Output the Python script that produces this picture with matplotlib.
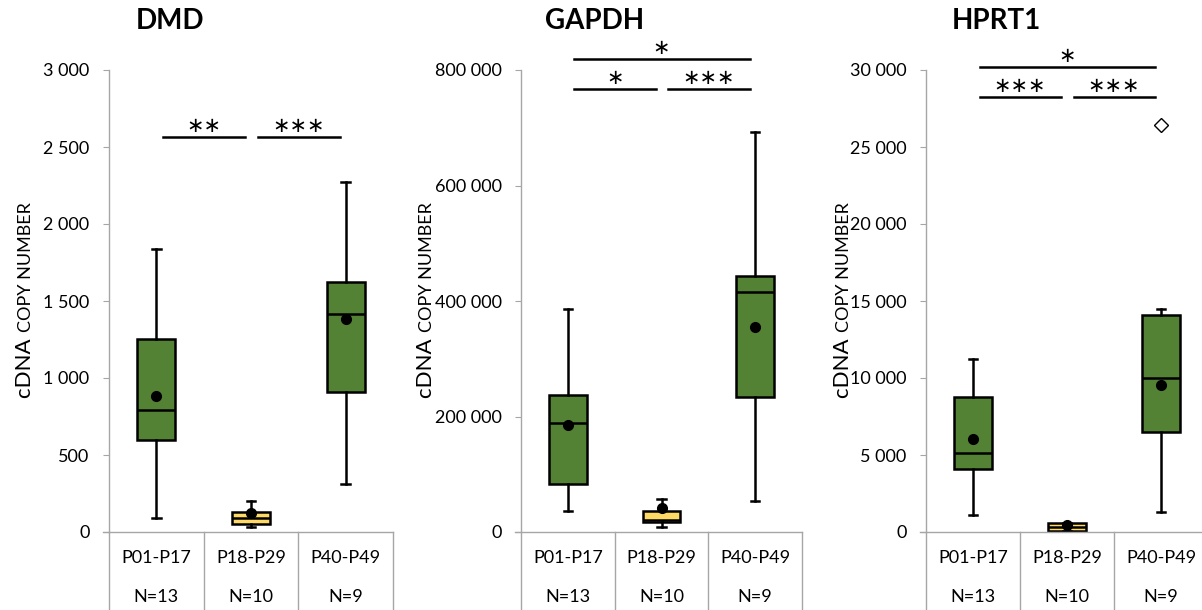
import matplotlib.pyplot as plt
from matplotlib.transforms import IdentityTransform, blended_transform_factory

plt.rcParams['font.family'] = ['Lato', 'DejaVu Sans']

# groups shown in the table under each panel
groups = ["P01-P17", "P18-P29", "P40-P49"]
group_n = ["N=13", "N=10", "N=9"]
genes = ["DMD", "GAPDH", "HPRT1"]

# box statistics (per group)
dmd_whislo = [91, 32, 312]
dmd_q1 = [597, 52, 909]
dmd_med = [792, 91, 1416]
dmd_q3 = [1253, 130, 1623]
dmd_whishi = [1840, 201, 2275]
dmd_mean = [880, 123, 1385]
dmd_fliers = [[], [], []]

gapdh_whislo = [36000, 9000, 54000]
gapdh_q1 = [83000, 17000, 234000]
gapdh_med = [189000, 21000, 416000]
gapdh_q3 = [237000, 36000, 443000]
gapdh_whishi = [386000, 58000, 693000]
gapdh_mean = [185000, 41000, 355000]
gapdh_fliers = [[], [], []]

hprt1_whislo = [1100, 40, 1300]
hprt1_q1 = [4090, 65, 6500]
hprt1_med = [5130, 300, 10000]
hprt1_q3 = [8770, 580, 14090]
hprt1_whishi = [11230, 600, 14480]
hprt1_mean = [6040, 480, 9550]
hprt1_fliers = [[], [], [26430]]

# y axis ranges
y_max = [3000, 800000, 30000]
y_step = [500, 200000, 5000]

# significance brackets: (group a, group b, height, label)
dmd_sig = [(0, 1, 2565, "**"), (1, 2, 2565, "***")]
gapdh_sig = [(0, 1, 767000, "*"), (1, 2, 767000, "***"), (0, 2, 819000, "*")]
hprt1_sig = [(0, 1, 28250, "***"), (1, 2, 28250, "***"), (0, 2, 30200, "*")]

box_colors = ["#548235", "#FFD966", "#548235"]
GREY = "#A6A6A6"

W, H = 1202, 610
ax_px = [(109, 393), (521, 802), (926, 1208)]
title_px = [170, 595, 996]
ylabel_px = [31, 432, 849]
top_px, bot_px = 70, 532


def make_stats(whislo, q1, med, q3, whishi, mean, fliers):
    return [dict(whislo=a, q1=b, med=c, q3=d, whishi=e, mean=f, fliers=g)
            for a, b, c, d, e, f, g in zip(whislo, q1, med, q3, whishi, mean, fliers)]


all_stats = [
    make_stats(dmd_whislo, dmd_q1, dmd_med, dmd_q3, dmd_whishi, dmd_mean, dmd_fliers),
    make_stats(gapdh_whislo, gapdh_q1, gapdh_med, gapdh_q3, gapdh_whishi, gapdh_mean, gapdh_fliers),
    make_stats(hprt1_whislo, hprt1_q1, hprt1_med, hprt1_q3, hprt1_whishi, hprt1_mean, hprt1_fliers),
]
all_sig = [dmd_sig, gapdh_sig, hprt1_sig]


def fmt(v, _pos=None):
    return f"{int(v):,}".replace(",", " ")


fig = plt.figure(figsize=(W / 100, H / 100), dpi=100)
lw = 1.8

for k, gene in enumerate(genes):
    x0, x1 = ax_px[k]
    ax = fig.add_axes([x0 / W, (H - bot_px) / H, (x1 - x0) / W, (bot_px - top_px) / H])
    ax.set_facecolor("none")
    stats = all_stats[k]
    res = ax.bxp(stats, positions=[0, 1, 2], widths=0.4, capwidths=0.09,
                 patch_artist=True, showmeans=True, manage_ticks=False,
                 boxprops=dict(edgecolor="black", linewidth=lw),
                 whiskerprops=dict(color="black", linewidth=lw),
                 capprops=dict(color="black", linewidth=lw),
                 medianprops=dict(color="black", linewidth=lw),
                 meanprops=dict(marker="o", markerfacecolor="black",
                                markeredgecolor="black", markersize=7),
                 flierprops=dict(marker="D", markerfacecolor="white",
                                 markeredgecolor="black", markersize=7,
                                 markeredgewidth=1))
    for patch, c in zip(res["boxes"], box_colors):
        patch.set_facecolor(c)

    ax.set_xlim(-0.5, 2.5)
    ax.set_ylim(0, y_max[k])
    ax.set_yticks(range(0, y_max[k] + 1, y_step[k]))
    ax.yaxis.set_major_formatter(plt.FuncFormatter(fmt))
    ax.set_xticks([])
    for s in ["top", "right", "bottom"]:
        ax.spines[s].set_visible(False)
    ax.spines["left"].set_color(GREY)
    ax.spines["left"].set_linewidth(1)
    ax.tick_params(axis="y", direction="out", length=4, color=GREY,
                   labelsize=13, pad=10, labelcolor="black")

    # table under the axis
    px_unit = (x1 - x0) / 3
    trans = blended_transform_factory(ax.transData, ax.transAxes)
    ax.plot([-0.5 - 6 / px_unit, 2.5], [0, 0], transform=trans, color=GREY,
            lw=1, clip_on=False)
    for xb in [-0.5, 0.5, 1.5, 2.5]:
        ax.plot([xb, xb], [0, -0.25], transform=trans, color=GREY, lw=1,
                clip_on=False)
    for i, (g, n) in enumerate(zip(groups, group_n)):
        ax.text(i, -0.0563, g, transform=trans, ha="center", va="center",
                fontsize=13)
        ax.text(i, -0.1407, n, transform=trans, ha="center", va="center",
                fontsize=13)

    # significance brackets
    for a, b, h, lab in all_sig[k]:
        ax.plot([a + 0.07, b - 0.06], [h, h], color="black", lw=1.8,
                clip_on=False)
        ax.annotate(lab.replace("*", "\u2217"), xy=((a + b) / 2, h),
                    xytext=(0, 11), textcoords="offset pixels",
                    ha="center", va="center", fontsize=15,
                    family="DejaVu Sans", annotation_clip=False)

    fig.text(title_px[k] / W, 1 - 21 / H, gene, ha="center", va="center",
             fontsize=20, fontweight="bold")

# y labels: "cDNA" plus small-caps "COPY NUMBER", baseline aligned
fig.canvas.draw()
renderer = fig.canvas.get_renderer()
center_y = H - 300
for k in range(3):
    xb = ylabel_px[k]
    t1 = fig.text(xb, 0, "cDNA ", transform=IdentityTransform(), rotation=90,
                  rotation_mode="anchor", ha="left", va="baseline", fontsize=16)
    t2 = fig.text(xb, 0, "COPY NUMBER", transform=IdentityTransform(),
                  rotation=90, rotation_mode="anchor", ha="left",
                  va="baseline", fontsize=13)
    h1 = t1.get_window_extent(renderer).height
    h2 = t2.get_window_extent(renderer).height
    start = center_y - (h1 + h2) / 2
    t1.set_position((xb, start))
    t2.set_position((xb, start + h1))

fig.savefig("out.png", dpi=100)
plt.close(fig)
